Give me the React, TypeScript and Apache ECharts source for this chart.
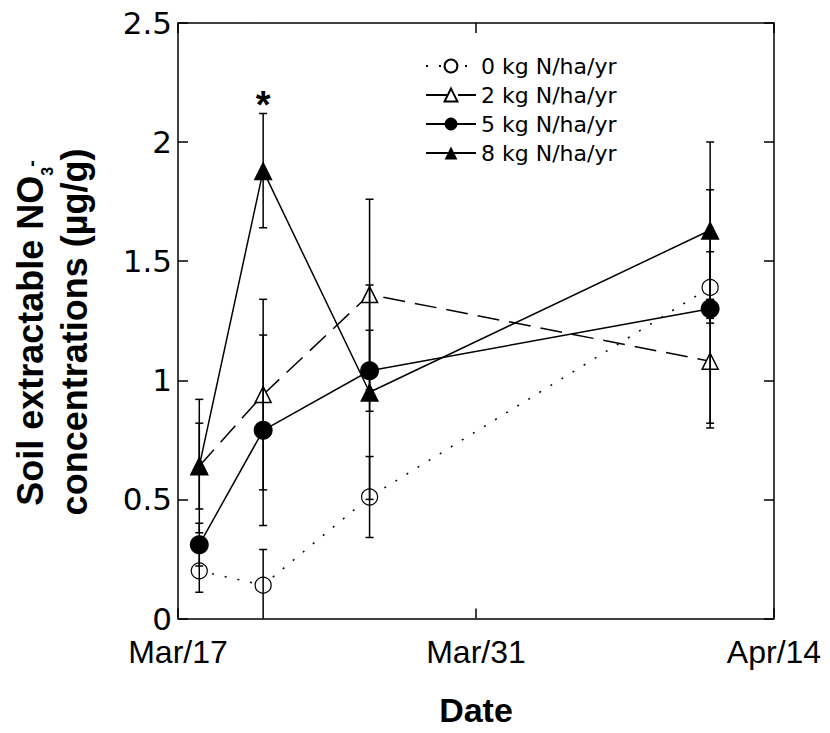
import React, { useEffect, useRef } from "react";
import * as echarts from "echarts";

const startDate = "2007-03-17";
const sampleDates = ["2007-03-18", "2007-03-21", "2007-03-26", "2007-04-11"];
const xTickLabels = ["Mar/17", "Mar/31", "Apr/14"];
const yTicks = [0, 0.5, 1, 1.5, 2, 2.5];
const seriesNames = ["0 kg N/ha/yr", "2 kg N/ha/yr", "5 kg N/ha/yr", "8 kg N/ha/yr"];

const n0 = [0.2, 0.14, 0.51, 1.39];
const err0 = [0.09, 0.15, 0.17, 0.15];
const n2 = [0.64, 0.94, 1.36, 1.08];
const err2 = [0.18, 0.4, 0.4, 0.26];
const n5 = [0.31, 0.79, 1.04, 1.3];
const err5 = [0.09, 0.4, 0.17, 0.5];
const n8 = [0.64, 1.88, 0.95, 1.63];
const err8 = [0.28, 0.24, 0.45, 0.37];

const sigDate = "2007-03-21";
const sigTop = 2.12;

const DAY = 86400000;
const toDay = (d: string) => (Date.parse(d) - Date.parse(startDate)) / DAY;
const days = sampleDates.map(toDay);

const means = [n0, n2, n5, n8];
const errs = [err0, err2, err5, err8];

const markerStyles = [
  { symbol: "circle", size: 16, fill: "#fff", borderWidth: 1.2 },
  { symbol: "triangle", size: 16, fill: "#fff", borderWidth: 1.5 },
  { symbol: "circle", size: 19, fill: "#000", borderWidth: 0 },
  { symbol: "triangle", size: 19, fill: "#000", borderWidth: 0 },
];
const lineTypes: any[] = [[2, 11], [22, 10], "solid", "solid"];

const mkLine = () => ({ show: true, onZero: false, lineStyle: { color: "#000", width: 1.5 } });
const mkTick = () => ({ show: true, inside: true, length: 10, lineStyle: { color: "#000", width: 1.5 } });

export default function App() {
  const ref = useRef<HTMLDivElement>(null);
  useEffect(() => {
    if (!ref.current) return;
    const chart = echarts.init(ref.current, null, { renderer: "svg" });

    const lineSeries = seriesNames.map((name, i) => ({
      name,
      type: "line",
      data: days.map((d, j) => [d, means[i][j]]),
      symbol: markerStyles[i].symbol,
      symbolSize: markerStyles[i].size,
      showAllSymbol: true,
      lineStyle: { color: "#000", width: 1.5, type: lineTypes[i] },
      itemStyle: {
        color: markerStyles[i].fill,
        borderColor: "#000",
        borderWidth: markerStyles[i].borderWidth,
      },
      z: 2 + i,
      emphasis: { disabled: true },
    }));

    const errData: any[] = [];
    means.forEach((m, i) =>
      m.forEach((v, j) => errData.push([days[j], v - errs[i][j], v + errs[i][j]]))
    );

    const errorSeries = {
      type: "custom",
      name: "err",
      clip: true,
      z: 10,
      data: errData,
      encode: { x: 0, y: [1, 2] },
      renderItem: (params: any, api: any) => {
        const x = api.value(0);
        const lo = api.value(1);
        const hi = api.value(2);
        const pHi = api.coord([x, hi]);
        const pLo = api.coord([x, lo]);
        const w = 4;
        const st = { stroke: "#000", lineWidth: 1.5 };
        return {
          type: "group",
          children: [
            { type: "line", shape: { x1: pHi[0], y1: pHi[1], x2: pLo[0], y2: pLo[1] }, style: st },
            { type: "line", shape: { x1: pHi[0] - w, y1: pHi[1], x2: pHi[0] + w, y2: pHi[1] }, style: st },
            { type: "line", shape: { x1: pLo[0] - w, y1: pLo[1], x2: pLo[0] + w, y2: pLo[1] }, style: st },
          ],
        };
      },
    };

    const sigSeries = {
      type: "scatter",
      name: "sig",
      data: [[toDay(sigDate), sigTop]],
      symbolSize: 1,
      itemStyle: { color: "rgba(0,0,0,0)" },
      z: 12,
      label: {
        show: true,
        formatter: "*",
        position: "top",
        distance: 0,
        offset: [0, 11],
        fontSize: 38,
        fontWeight: "bold",
        fontFamily: "Liberation Sans",
        color: "#000",
        opacity: 1,
      },
    };

    chart.setOption({
      animation: false,
      backgroundColor: "#fff",
      grid: { left: 178, right: 56, top: 23, bottom: 114.5 },
      legend: {
        data: seriesNames,
        orient: "vertical",
        left: 420,
        top: 50,
        itemWidth: 50,
        itemHeight: 16,
        itemGap: 7,
        textStyle: { fontFamily: "DejaVu Sans", fontSize: 22, color: "#000" },
      },
      xAxis: [
        {
          type: "value",
          position: "bottom",
          min: 0,
          max: 28,
          interval: 14,
          axisLine: mkLine(),
          axisTick: mkTick(),
          splitLine: { show: false },
          axisLabel: {
            margin: 17,
            fontFamily: "Liberation Sans",
            fontSize: 32,
            color: "#000",
            formatter: (v: number) => xTickLabels[Math.round(v / 14)] ?? "",
          },
          name: "Date",
          nameLocation: "middle",
          nameGap: 74,
          nameTextStyle: { fontFamily: "Liberation Sans", fontSize: 34, fontWeight: "bold", color: "#000" },
        },
        {
          type: "value",
          position: "top",
          min: 0,
          max: 28,
          interval: 14,
          axisLine: mkLine(),
          axisTick: mkTick(),
          axisLabel: { show: false },
          splitLine: { show: false },
        },
      ],
      yAxis: [
        {
          type: "value",
          position: "left",
          min: yTicks[0],
          max: yTicks[yTicks.length - 1],
          interval: 0.5,
          axisLine: mkLine(),
          axisTick: mkTick(),
          splitLine: { show: false },
          axisLabel: { margin: 6, fontFamily: "DejaVu Sans", fontSize: 31, color: "#000" },
        },
        {
          type: "value",
          position: "right",
          min: yTicks[0],
          max: yTicks[yTicks.length - 1],
          interval: 0.5,
          axisLine: mkLine(),
          axisTick: mkTick(),
          axisLabel: { show: false },
          splitLine: { show: false },
        },
      ],
      graphic: [
        {
          type: "text",
          x: 30.5,
          y: 333,
          rotation: Math.PI / 2,
          style: {
            text: "{a|Soil extractable NO}{b|3}{c|-}",
            align: "center",
            verticalAlign: "middle",
            fill: "#000",
            rich: {
              a: { fontSize: 36, fontWeight: "bold", fontFamily: "Liberation Sans", lineHeight: 50, fill: "#000" },
              b: { fontSize: 16, fontWeight: "bold", fontFamily: "Liberation Sans", lineHeight: 16, verticalAlign: "bottom", fill: "#000" },
              c: { fontSize: 20, fontWeight: "bold", fontFamily: "Liberation Sans", lineHeight: 20, verticalAlign: "middle", fill: "#000" },
            },
          },
        },
        {
          type: "text",
          x: 74.5,
          y: 332,
          rotation: Math.PI / 2,
          style: {
            text: "concentrations (µg/g)",
            align: "center",
            verticalAlign: "middle",
            fill: "#000",
            font: "bold 36px 'Liberation Sans'",
          },
        },
      ],
      series: [...lineSeries, errorSeries, sigSeries],
    });

    return () => chart.dispose();
  }, []);

  return (
    <div
      ref={ref}
      style={{ position: "fixed", left: 0, top: 0, width: 830, height: 733, background: "#fff" }}
    />
  );
}
